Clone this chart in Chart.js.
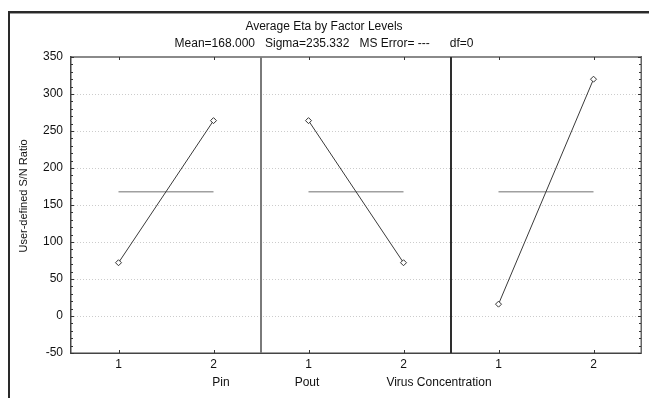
<!DOCTYPE html>
<html>
<head>
<meta charset="utf-8">
<script src="https://cdn.jsdelivr.net/npm/chart.js@4.4.1/dist/chart.umd.min.js"></script>
<style>
html,body{margin:0;padding:0;background:#fff;}
#wrap{width:649px;height:398px;position:relative;}
</style>
</head>
<body>
<div id="wrap"><canvas id="c" width="649" height="398"></canvas></div>
<script>
// ---- data ----
const factors = ["Pin", "Pout", "Virus Concentration"];
const levels = ["1", "2"];
const pinMeans = [72, 264];
const poutMeans = [264, 72];
const virusMeans = [16, 320];
const grandMean = 168;
const titleText = "Average Eta by Factor Levels";
const subtitleText = "Mean=168.000   Sigma=235.332   MS Error= ---      df=0";
const yTitle = "User-defined S/N Ratio";
const yMin = -50, yMax = 350, yStep = 50;

const factorMeans = [pinMeans, poutMeans, virusMeans];
const labels = [];
factors.forEach(() => levels.forEach(l => labels.push(l)));

const datasets = [];
factorMeans.forEach((vals, i) => {
  datasets.push({
    label: factors[i] + " mean",
    data: labels.map((_, j) => Math.floor(j / levels.length) === i ? grandMean : null),
    borderColor: '#a0a0a0', borderWidth: 1.5, pointRadius: 0, spanGaps: false, order: 2
  });
  datasets.push({
    label: factors[i],
    data: labels.map((_, j) => Math.floor(j / levels.length) === i ? vals[j % levels.length] : null),
    borderColor: '#3a3a3a', borderWidth: 1, pointStyle: 'rectRot', pointRadius: 3,
    pointBackgroundColor: '#fff', pointBorderColor: '#333', pointBorderWidth: 1,
    spanGaps: false, order: 1
  });
});

const FONT = '"Liberation Sans", Arial, sans-serif';

const decor = {
  id: 'decor',
  afterDraw(chart) {
    const ctx = chart.ctx, a = chart.chartArea;
    const xs = chart.scales.x, ys = chart.scales.y;
    ctx.save();
    // outer frame (left + top)
    ctx.fillStyle = '#2a2a2a';
    ctx.fillRect(8, 11, 2, 398 - 11);
    ctx.fillRect(8, 11, 649 - 8, 2);
    ctx.fillStyle = '#9a9a9a';
    ctx.fillRect(10, 13, 649 - 10, 1);
    // plot frame
    ctx.fillStyle = '#8a8a8a';
    ctx.fillRect(a.left, a.top - 1, a.right - a.left, 2);
    ctx.fillStyle = '#444';
    ctx.fillRect(a.left - 1, a.top - 1, 1.5, a.bottom - a.top + 2);
    ctx.fillRect(a.left - 1, a.bottom - 0.5, a.right - a.left + 2, 1.5);
    ctx.fillStyle = '#666';
    ctx.fillRect(a.right - 0.5, a.top - 1, 1.5, a.bottom - a.top + 2);
    // dividers
    const n = levels.length;
    for (let f = 1; f < factors.length; f++) {
      const x = (xs.getPixelForValue(f * n - 1) + xs.getPixelForValue(f * n)) / 2;
      ctx.fillStyle = f === 1 ? '#7a7a7a' : '#2e2e2e';
      ctx.fillRect(Math.round(x) - 1, a.top, 2, a.bottom - a.top);
    }
    // inward ticks
    ctx.strokeStyle = '#333';
    ctx.lineWidth = 1;
    ctx.beginPath();
    for (let i = 0; i < labels.length; i++) {
      const x = Math.round(xs.getPixelForValue(i)) + 0.5;
      ctx.moveTo(x, a.top); ctx.lineTo(x, a.top + 3);
      ctx.moveTo(x, a.bottom); ctx.lineTo(x, a.bottom - 3);
    }
    for (let v = yMin; v <= yMax; v += 10) {
      const y = Math.round(ys.getPixelForValue(v)) + 0.5;
      const len = (v % 50 === 0) ? 3 : 2;
      ctx.moveTo(a.left, y); ctx.lineTo(a.left + len, y);
      ctx.moveTo(a.right, y); ctx.lineTo(a.right - len, y);
    }
    ctx.stroke();
    // texts
    ctx.fillStyle = '#111';
    ctx.textAlign = 'center';
    ctx.textBaseline = 'middle';
    ctx.font = '12px ' + FONT;
    ctx.fillText(titleText, 324, 27);
    ctx.fillText(subtitleText, 324, 44);
    // factor names
    const namePos = [221, 307, 439];
    factors.forEach((f, i) => ctx.fillText(f, namePos[i], 383));
    // y title
    ctx.font = '11px ' + FONT;
    ctx.save();
    ctx.translate(24, 196);
    ctx.rotate(-Math.PI / 2);
    ctx.fillText(yTitle, 0, 0);
    ctx.restore();
    ctx.restore();
  }
};

new Chart(document.getElementById('c'), {
  type: 'line',
  data: { labels, datasets },
  options: {
    responsive: false,
    animation: false,
    devicePixelRatio: 1,
    layout: { padding: { left: 0, top: 57, right: 8, bottom: 0 } },
    plugins: { legend: { display: false }, tooltip: { enabled: false }, title: { display: false } },
    scales: {
      x: {
        type: 'category',
        offset: true,
        grid: { display: false, drawTicks: false },
        border: { display: false },
        ticks: { color: '#111', font: { family: FONT, size: 12 }, padding: 4, maxRotation: 0, autoSkip: false },
        afterFit(s) { s.height = 45; }
      },
      y: {
        min: yMin, max: yMax,
        grid: {
          drawTicks: false,
          color: (c) => (c.tick && (c.tick.value === yMin || c.tick.value === yMax)) ? 'rgba(0,0,0,0)' : '#cccccc',
          lineWidth: 1
        },
        border: { display: false, dash: [1, 2] },
        ticks: { stepSize: yStep, color: '#111', font: { family: FONT, size: 12 }, padding: 8 },
        afterFit(s) { s.width = 71; }
      }
    }
  },
  plugins: [decor]
});
</script>
</body>
</html>
